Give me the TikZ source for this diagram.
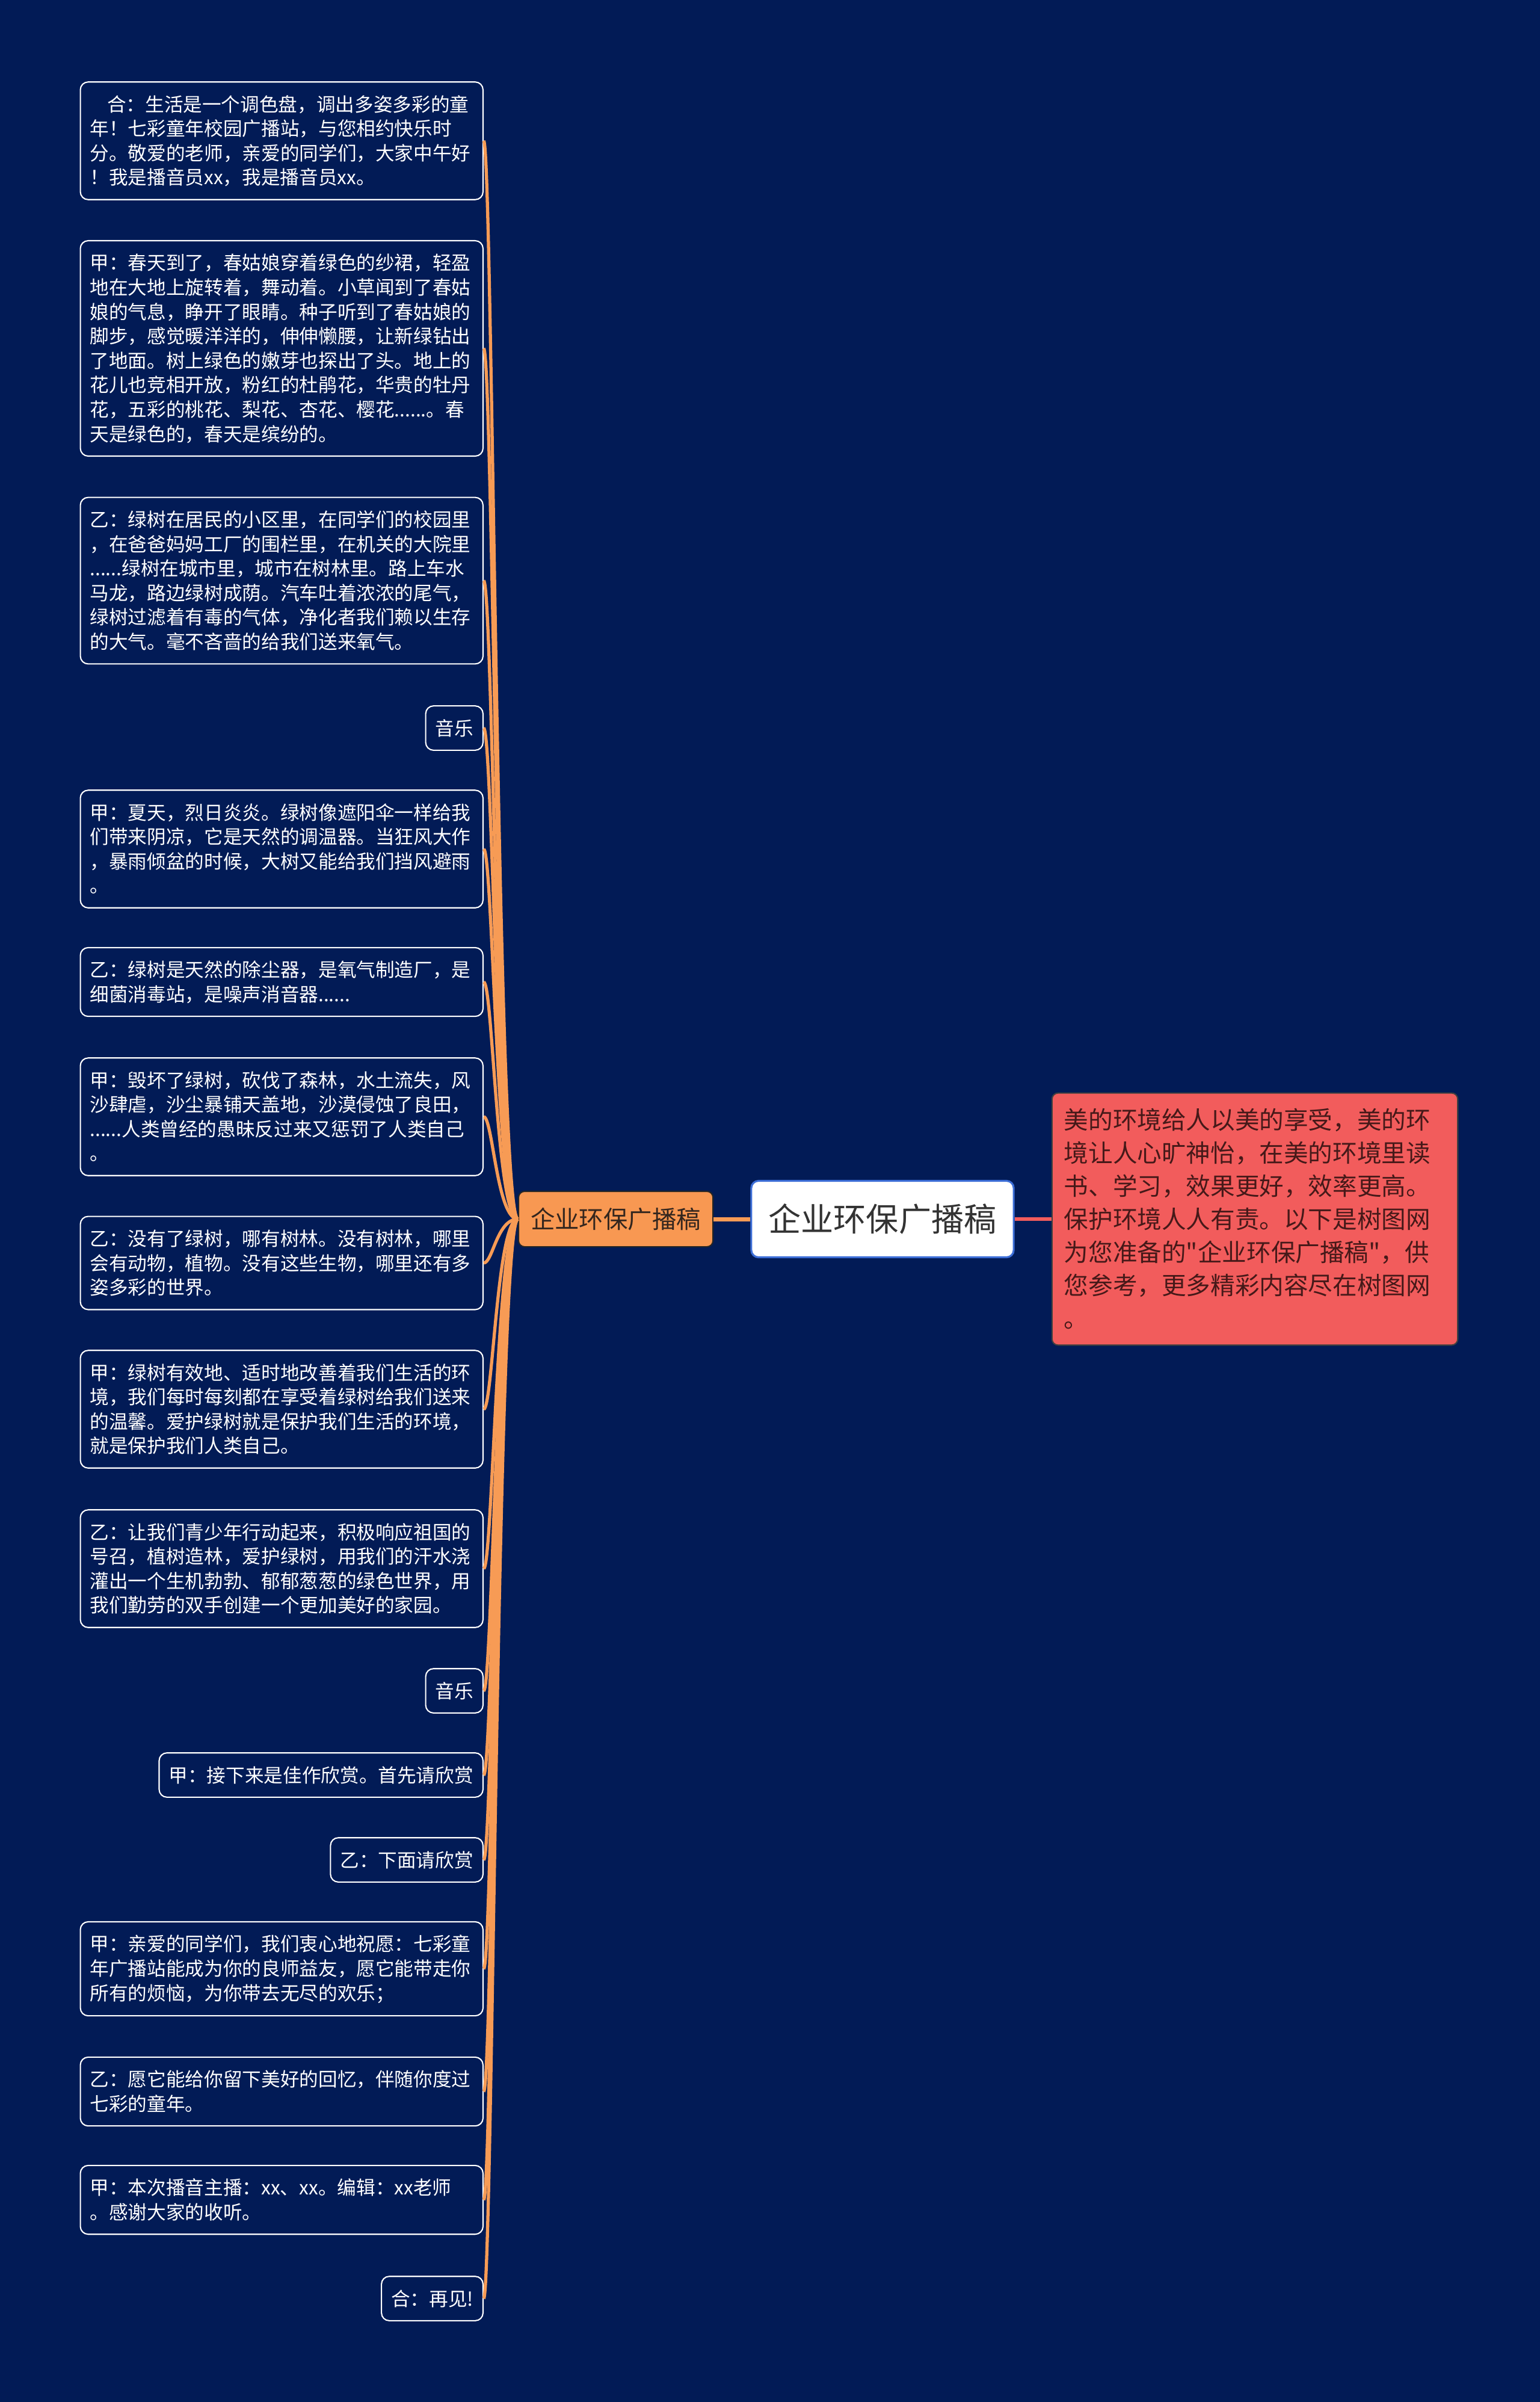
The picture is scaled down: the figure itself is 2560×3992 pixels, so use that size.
\documentclass[tikz,border=0pt]{standalone}
\usepackage{fontspec}
\setmainfont{Noto Sans CJK SC}[Ligatures=TeXOff]
\usetikzlibrary{positioning}

\definecolor{bgnavy}{RGB}{2,27,86}
\definecolor{twigorange}{RGB}{247,155,85}
\definecolor{topicfill}{RGB}{248,152,82}
\definecolor{topictext}{RGB}{52,38,30}
\definecolor{rootblue}{RGB}{60,110,215}
\definecolor{notered}{RGB}{242,92,92}
\definecolor{notetext}{RGB}{70,25,25}

\newcommand{\cjkstrut}{\rule[-0.12em]{0pt}{1em}}

\begin{document}
\begin{tikzpicture}[
  x=0.01cm, y=-0.01cm,
  leaf/.style={draw=white, fill=bgnavy, text=white, rounded corners=0.13cm, line width=0.6pt,
    inner xsep=0.16cm, inner ysep=0.21cm, anchor=east,
    font=\fontsize{9pt}{11.55pt}\selectfont,
    execute at begin node=\noindent\cjkstrut, execute at end node=\cjkstrut},
  wide/.style={leaf, text width=6.37cm, align=left},
  topic/.style={draw=black!85, fill=topicfill, text=topictext, rounded corners=0.1cm, line width=0.6pt,
    minimum width=3.23cm, minimum height=0.92cm, inner sep=0pt,
    font=\fontsize{11.5pt}{14pt}\selectfont},
  central/.style={draw=rootblue, fill=white, text=black!80, rounded corners=0.12cm, line width=0.9pt,
    minimum width=4.36cm, minimum height=1.27cm, inner sep=0pt,
    font=\fontsize{15.4pt}{18pt}\selectfont},
  summary/.style={draw=black!75, fill=notered, text=notetext, rounded corners=0.1cm, line width=0.6pt,
    text width=6.34cm, align=left, inner xsep=0.2cm, inner ysep=0.24cm,
    font=\fontsize{11.55pt}{15.65pt}\selectfont,
    execute at begin node=\noindent\cjkstrut, execute at end node=\cjkstrut},
  twig/.style={draw=twigorange, line width=1.5pt},
  topiclink/.style={draw=twigorange, line width=2pt},
  notelink/.style={draw=notered, line width=1.8pt}
]

\fill[bgnavy] (0,0) rectangle (2560,3992);

\node[central] (root) at (1467,2026) {企业环保广播稿};
\node[topic, left=0.61cm of root] (topic) {企业环保广播稿};
\node[summary, right=0.61cm of root] (note) {美的环境给人以美的享受，美的环\\
  境让人心旷神怡，在美的环境里读\\
  书、学习，效果更好，效率更高。\\
  保护环境人人有责。以下是树图网\\
  为您准备的"企业环保广播稿"，供\\
  您参考，更多精彩内容尽在树图网\\
  。};

\node[wide] (s1) at (804,234) {\hspace*{0.9em}合：生活是一个调色盘，调出多姿多彩的童\\
  年！七彩童年校园广播站，与您相约快乐时\\
  分。敬爱的老师，亲爱的同学们，大家中午好\\
  ！我是播音员xx，我是播音员xx。};
\node[wide] (s2) at (804,579) {甲：春天到了，春姑娘穿着绿色的纱裙，轻盈\\
  地在大地上旋转着，舞动着。小草闻到了春姑\\
  娘的气息，睁开了眼睛。种子听到了春姑娘的\\
  脚步，感觉暖洋洋的，伸伸懒腰，让新绿钻出\\
  了地面。树上绿色的嫩芽也探出了头。地上的\\
  花儿也竞相开放，粉红的杜鹃花，华贵的牡丹\\
  花，五彩的桃花、梨花、杏花、樱花......。春\\
  天是绿色的，春天是缤纷的。};
\node[wide] (s3) at (804,965) {乙：绿树在居民的小区里，在同学们的校园里\\
  ，在爸爸妈妈工厂的围栏里，在机关的大院里\\
  ......绿树在城市里，城市在树林里。路上车水\\
  马龙，路边绿树成荫。汽车吐着浓浓的尾气，\\
  绿树过滤着有毒的气体，净化者我们赖以生存\\
  的大气。毫不吝啬的给我们送来氧气。};
\node[leaf] (s4) at (804,1210) {音乐};
\node[wide] (s5) at (804,1411) {甲：夏天，烈日炎炎。绿树像遮阳伞一样给我\\
  们带来阴凉，它是天然的调温器。当狂风大作\\
  ，暴雨倾盆的时候，大树又能给我们挡风避雨\\
  。};
\node[wide] (s6) at (804,1632) {乙：绿树是天然的除尘器，是氧气制造厂，是\\
  细菌消毒站，是噪声消音器......};
\node[wide] (s7) at (804,1856) {甲：毁坏了绿树，砍伐了森林，水土流失，风\\
  沙肆虐，沙尘暴铺天盖地，沙漠侵蚀了良田，\\
  ......人类曾经的愚昧反过来又惩罚了人类自己\\
  。};
\node[wide] (s8) at (804,2099) {乙：没有了绿树，哪有树林。没有树林，哪里\\
  会有动物，植物。没有这些生物，哪里还有多\\
  姿多彩的世界。};
\node[wide] (s9) at (804,2342) {甲：绿树有效地、适时地改善着我们生活的环\\
  境，我们每时每刻都在享受着绿树给我们送来\\
  的温馨。爱护绿树就是保护我们生活的环境，\\
  就是保护我们人类自己。};
\node[wide] (s10) at (804,2607) {乙：让我们青少年行动起来，积极响应祖国的\\
  号召，植树造林，爱护绿树，用我们的汗水浇\\
  灌出一个生机勃勃、郁郁葱葱的绿色世界，用\\
  我们勤劳的双手创建一个更加美好的家园。};
\node[leaf] (s11) at (804,2810) {音乐};
\node[leaf] (s12) at (804,2950) {甲：接下来是佳作欣赏。首先请欣赏};
\node[leaf] (s13) at (804,3091) {乙：下面请欣赏};
\node[wide] (s14) at (804,3272) {甲：亲爱的同学们，我们衷心地祝愿：七彩童\\
  年广播站能成为你的良师益友，愿它能带走你\\
  所有的烦恼，为你带去无尽的欢乐；};
\node[wide] (s15) at (804,3476) {乙：愿它能给你留下美好的回忆，伴随你度过\\
  七彩的童年。};
\node[wide] (s16) at (804,3656) {甲：本次播音主播：xx、xx。编辑：xx老师\\
  。感谢大家的收听。};
\node[leaf] (s17) at (804,3820) {合：再见!};

\draw[topiclink] (topic) -- (root);
\draw[notelink] (root) -- (note);

\draw[twig] (topic.west) .. controls +(-35,0) and +(15,0) .. (s1.east);
\draw[twig] (topic.west) .. controls +(-35,0) and +(15,0) .. (s2.east);
\draw[twig] (topic.west) .. controls +(-35,0) and +(15,0) .. (s3.east);
\draw[twig] (topic.west) .. controls +(-35,0) and +(15,0) .. (s4.east);
\draw[twig] (topic.west) .. controls +(-35,0) and +(15,0) .. (s5.east);
\draw[twig] (topic.west) .. controls +(-35,0) and +(15,0) .. (s6.east);
\draw[twig] (topic.west) .. controls +(-35,0) and +(15,0) .. (s7.east);
\draw[twig] (topic.west) .. controls +(-35,0) and +(15,0) .. (s8.east);
\draw[twig] (topic.west) .. controls +(-35,0) and +(15,0) .. (s9.east);
\draw[twig] (topic.west) .. controls +(-35,0) and +(15,0) .. (s10.east);
\draw[twig] (topic.west) .. controls +(-35,0) and +(15,0) .. (s11.east);
\draw[twig] (topic.west) .. controls +(-35,0) and +(15,0) .. (s12.east);
\draw[twig] (topic.west) .. controls +(-35,0) and +(15,0) .. (s13.east);
\draw[twig] (topic.west) .. controls +(-35,0) and +(15,0) .. (s14.east);
\draw[twig] (topic.west) .. controls +(-35,0) and +(15,0) .. (s15.east);
\draw[twig] (topic.west) .. controls +(-35,0) and +(15,0) .. (s16.east);
\draw[twig] (topic.west) .. controls +(-35,0) and +(15,0) .. (s17.east);

\end{tikzpicture}
\end{document}
